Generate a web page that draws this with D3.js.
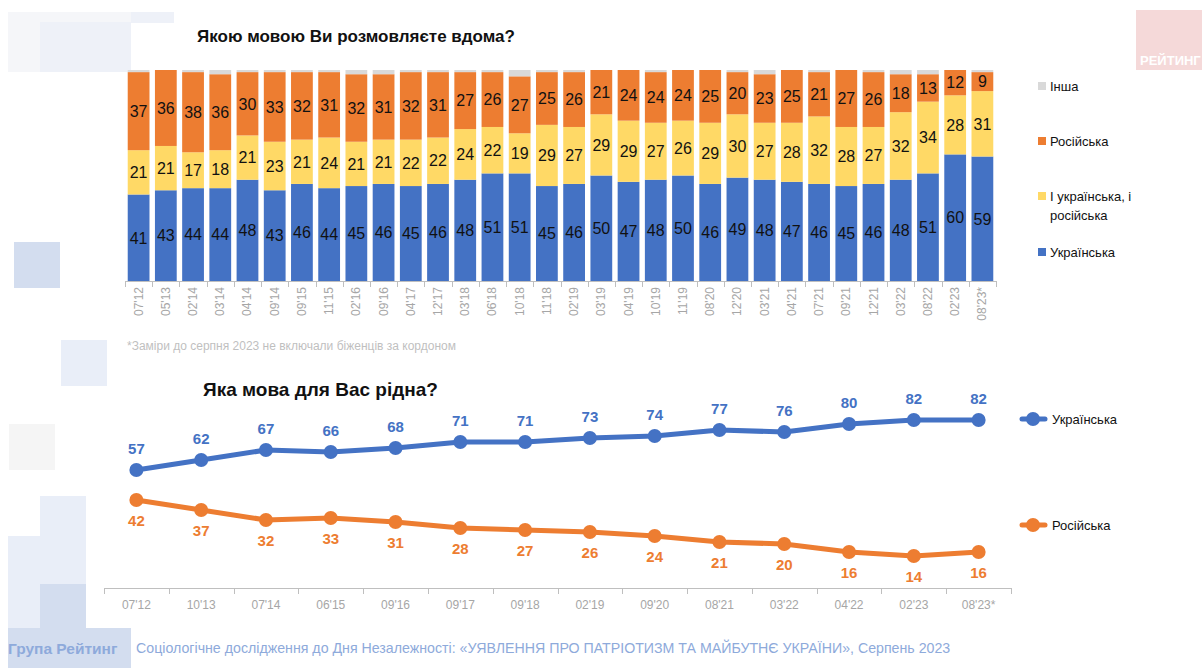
<!DOCTYPE html>
<html>
<head>
<meta charset="utf-8">
<script src="https://cdn.jsdelivr.net/npm/d3@7"></script>
<style>
  body { margin: 0; background: #fff; }
  svg { display: block; font-family: "Liberation Sans", Arial, sans-serif; }
</style>
</head>
<body>
<div id="chart"></div>
<script>
// top chart: what language do you speak at home
var barCats = ["07'12","05'13","02'14","03'14","04'14","09'14","09'15","11'15","02'16","09'16","04'17","12'17",
               "03'18","06'18","10'18","11'18","02'19","03'19","04'19","10'19","11'19","08'20","12'20","03'21",
               "04'21","07'21","09'21","12'21","03'22","08'22","02'23","08'23*"];
var ukrHome  = [41,43,44,44,48,43,46,44,45,46,45,46,48,51,51,45,46,50,47,48,50,46,49,48,47,46,45,46,48,51,60,59];
var bothHome = [21,21,17,18,21,23,21,24,21,21,22,22,24,22,19,29,27,29,29,27,26,29,30,27,28,32,28,27,32,34,28,31];
var rusHome  = [37,36,38,36,30,33,32,31,32,31,32,31,27,26,27,25,26,21,24,24,24,25,20,23,25,21,27,26,18,13,12,9];
var otherHome = [1,0,1,2,1,1,1,1,2,2,1,1,1,1,3,1,1,0,0,1,0,0,1,2,0,1,0,1,2,2,0,1];
var barSeries = ["Українська", "І українська, і російська", "Російська", "Інша"];

// bottom chart: native language
var lineCats = ["07'12","10'13","07'14","06'15","09'16","09'17","09'18","02'19","09'20","08'21","03'22","04'22","02'23","08'23*"];
var ukrNative = [57,62,67,66,68,71,71,73,74,77,76,80,82,82];
var rusNative = [42,37,32,33,31,28,27,26,24,21,20,16,14,16];

var BLUE = "#4472c4", ORANGE = "#ed7d31", YELLOW = "#ffd966", GREY = "#d9d9d9";
var colors = [BLUE, YELLOW, ORANGE, GREY];

var W = 1202, H = 668;
var svg = d3.select("#chart").append("svg").attr("width", W).attr("height", H);

// background decoration
var deco = [
  [8, 12, 123, 60, "#f5f6f9"], [40, 22, 91, 50, "#eef1f8"], [131, 12, 43, 11, "#eef1f8"],
  [14, 242, 46, 46, "#d3ddef"], [61, 340, 46, 46, "#e9eef8"], [9, 424, 46, 46, "#f5f5f5"],
  [40, 496, 46, 132, "#e9eef8"], [8, 536, 32, 92, "#e9eef8"], [40, 584, 46, 44, "#d3ddef"],
  [8, 628, 123, 40, "#d3ddef"]
];
svg.selectAll("rect.deco").data(deco).enter().append("rect")
  .attr("class", "deco")
  .attr("x", function(d) { return d[0]; }).attr("y", function(d) { return d[1]; })
  .attr("width", function(d) { return d[2]; }).attr("height", function(d) { return d[3]; })
  .attr("fill", function(d) { return d[4]; });

// logo top right
svg.append("rect").attr("x", 1136).attr("y", 10).attr("width", 66).attr("height", 60).attr("fill", "#f5d9d9");
svg.append("text").attr("x", 1140).attr("y", 65).attr("fill", "#fff").attr("font-weight", "bold")
  .attr("font-size", 13).text("РЕЙТИНГ");

// ---------- stacked bars ----------
var x = d3.scaleBand().domain(barCats).range([125, 996]).paddingInner(0.2).paddingOuter(0.1);
var y = d3.scaleLinear().domain([0, 100]).range([281, 70]);

var rows = barCats.map(function(c, i) {
  return { cat: c, s0: ukrHome[i], s1: bothHome[i], s2: rusHome[i], s3: otherHome[i] };
});
var stack = d3.stack().keys(["s0", "s1", "s2", "s3"])(rows);

var layers = svg.selectAll("g.layer").data(stack).enter().append("g")
  .attr("class", "layer").attr("fill", function(d, i) { return colors[i]; });

layers.selectAll("rect").data(function(d) { return d; }).enter().append("rect")
  .attr("x", function(d) { return x(d.data.cat); })
  .attr("y", function(d) { return y(d[1]); })
  .attr("width", x.bandwidth())
  .attr("height", function(d) { return y(d[0]) - y(d[1]); });

// value labels (not for "other")
stack.slice(0, 3).forEach(function(layer) {
  svg.append("g").selectAll("text").data(layer).enter().append("text")
    .attr("x", function(d) { return x(d.data.cat) + x.bandwidth() / 2; })
    .attr("y", function(d) { return (y(d[0]) + y(d[1])) / 2; })
    .attr("dy", "0.36em")
    .attr("text-anchor", "middle")
    .attr("font-family", "'Liberation Sans Narrow', 'Liberation Sans', Arial, sans-serif")
    .attr("font-size", 16)
    .attr("fill", "#111")
    .text(function(d) { return d[1] - d[0]; });
});

// x axis
var axisG = svg.append("g").attr("stroke", "#bfbfbf").attr("stroke-width", 1);
axisG.append("line").attr("x1", x.range()[0]).attr("x2", x.range()[1]).attr("y1", 281.5).attr("y2", 281.5);
var half = x.step() * x.paddingInner() / 2;
var bounds = barCats.map(function(c) { return x(c) - half; }).concat([x.range()[1]]);
bounds[0] = x.range()[0];
axisG.selectAll("line.tick").data(bounds).enter().append("line")
  .attr("x1", function(d) { return Math.round(d) + 0.5; }).attr("x2", function(d) { return Math.round(d) + 0.5; })
  .attr("y1", 281).attr("y2", 287);

svg.append("g").selectAll("text").data(barCats).enter().append("text")
  .attr("transform", function(d) { return "translate(" + (x(d) + x.bandwidth() / 2 + 4) + ",287) rotate(-90)"; })
  .attr("text-anchor", "end")
  .attr("font-size", 12)
  .attr("fill", "#a6a6a6")
  .text(function(d) { return d; });

// title and footnote
svg.append("text").attr("x", 197).attr("y", 42).attr("font-size", 17).attr("font-weight", "bold")
  .attr("fill", "#111").text("Якою мовою Ви розмовляєте вдома?");
svg.append("text").attr("x", 127).attr("y", 350).attr("font-size", 12).attr("fill", "#bfbfbf")
  .text("*Заміри до серпня 2023 не включали біженців за кордоном");

// bar legend
var legY = [86, 141, 196, 252];
var legLabels = [["Інша"], ["Російська"], ["І українська, і", "російська"], ["Українська"]];
var legColors = [GREY, ORANGE, YELLOW, BLUE];
legY.forEach(function(ly, i) {
  svg.append("rect").attr("x", 1038).attr("y", ly - 4).attr("width", 8).attr("height", 8).attr("fill", legColors[i]);
  legLabels[i].forEach(function(t, j) {
    svg.append("text").attr("x", 1050).attr("y", ly + j * 19).attr("dy", "0.35em")
      .attr("font-size", 13).attr("fill", "#111").text(t);
  });
});

// ---------- line chart ----------
svg.append("text").attr("x", 203).attr("y", 396).attr("font-size", 19).attr("font-weight", "bold")
  .attr("fill", "#111").text("Яка мова для Вас рідна?");

var x2 = d3.scaleBand().domain(lineCats).range([104, 1011]);
var y2 = d3.scaleLinear().domain([0, 100]).range([584, 384]);
var cx = function(c) { return x2(c) + x2.bandwidth() / 2; };

var ax2 = svg.append("g").attr("stroke", "#bfbfbf");
ax2.append("line").attr("x1", 104).attr("x2", 1011).attr("y1", 588.5).attr("y2", 588.5);
ax2.selectAll("line.tick").data(lineCats.map(function(c) { return x2(c); }).concat([x2.range()[1]]))
  .enter().append("line")
  .attr("x1", function(d) { return Math.round(d) + 0.5; }).attr("x2", function(d) { return Math.round(d) + 0.5; })
  .attr("y1", 588).attr("y2", 594);
svg.append("g").selectAll("text").data(lineCats).enter().append("text")
  .attr("x", function(d) { return cx(d); }).attr("y", 609)
  .attr("text-anchor", "middle").attr("font-size", 12).attr("fill", "#a6a6a6")
  .text(function(d) { return d; });

var lineSeries = [
  { name: "Українська", vals: ukrNative, color: BLUE, off: -21, legY: 419 },
  { name: "Російська", vals: rusNative, color: ORANGE, off: 21, legY: 525 }
];
var line = d3.line().x(function(d, i) { return cx(lineCats[i]); }).y(function(d) { return y2(d); });

lineSeries.forEach(function(s) {
  var g = svg.append("g");
  g.append("path").attr("d", line(s.vals)).attr("fill", "none").attr("stroke", s.color)
    .attr("stroke-width", 5).attr("stroke-linejoin", "round");
  g.selectAll("circle").data(s.vals).enter().append("circle")
    .attr("cx", function(d, i) { return cx(lineCats[i]); })
    .attr("cy", function(d) { return y2(d); })
    .attr("r", 7).attr("fill", s.color);
  g.selectAll("text").data(s.vals).enter().append("text")
    .attr("x", function(d, i) { return cx(lineCats[i]); })
    .attr("y", function(d) { return y2(d) + s.off; })
    .attr("dy", "0.36em").attr("text-anchor", "middle")
    .attr("font-size", 15).attr("font-weight", "bold").attr("fill", s.color)
    .text(function(d) { return d; });
  // legend
  svg.append("line").attr("x1", 1022).attr("x2", 1045).attr("y1", s.legY).attr("y2", s.legY)
    .attr("stroke", s.color).attr("stroke-width", 5).attr("stroke-linecap", "round");
  svg.append("circle").attr("cx", 1033).attr("cy", s.legY).attr("r", 7).attr("fill", s.color);
  svg.append("text").attr("x", 1052).attr("y", s.legY).attr("dy", "0.35em")
    .attr("font-size", 13).attr("fill", "#111").text(s.name);
});

// footer
svg.append("text").attr("x", 8).attr("y", 654).attr("font-size", 15.5).attr("font-weight", "bold")
  .attr("fill", "#8eaadb").text("Група Рейтинг");
svg.append("text").attr("x", 136).attr("y", 653).attr("font-size", 14.2).attr("fill", "#8eaadb")
  .text("Соціологічне дослідження до Дня Незалежності: «УЯВЛЕННЯ ПРО ПАТРІОТИЗМ ТА МАЙБУТНЄ УКРАЇНИ», Серпень 2023");
</script>
</body>
</html>
